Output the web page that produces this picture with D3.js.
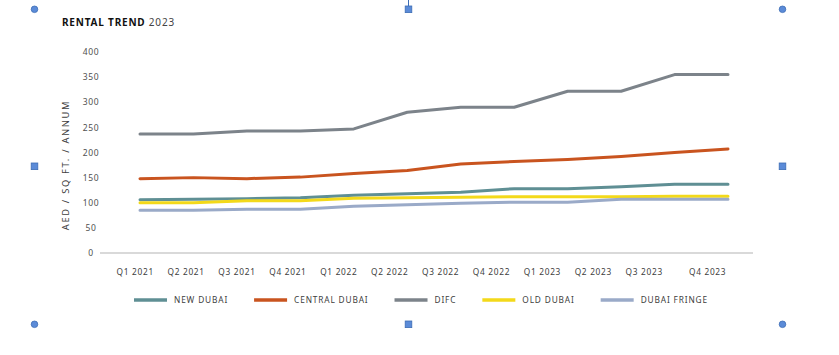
<!DOCTYPE html>
<html>
<head>
<meta charset="utf-8">
<script src="https://cdn.jsdelivr.net/npm/d3@7"></script>
<style>
  html, body { margin: 0; padding: 0; background: #fff; }
  svg { display: block; font-family: "Noto Sans", "DejaVu Sans", sans-serif; }
</style>
</head>
<body>
<svg id="chart" width="839" height="355"></svg>
<script>
const categories = ["Q1 2021","Q2 2021","Q3 2021","Q4 2021","Q1 2022","Q2 2022","Q3 2022","Q4 2022","Q1 2023","Q2 2023","Q3 2023","Q4 2023"];
const newDubai     = [106, 107, 108, 110, 115, 118, 121, 128, 128, 132, 137, 137];
const centralDubai = [148, 150, 148, 151, 158, 164, 177, 182, 186, 192, 200, 207];
const difc         = [237, 237, 243, 243, 247, 280, 290, 290, 322, 322, 355, 355];
const oldDubai     = [100, 100, 104, 104, 109, 110, 111, 112, 112, 112, 113, 113];
const dubaiFringe  = [85, 85, 87, 87, 93, 96, 99, 101, 101, 107, 107, 107];
const seriesNames  = ["NEW DUBAI", "CENTRAL DUBAI", "DIFC", "OLD DUBAI", "DUBAI FRINGE"];
const yTicks       = [0, 50, 100, 150, 200, 250, 300, 350, 400];

const colors = ["#5f8f94", "#c9541f", "#7c838a", "#f3d91a", "#9aaac8"];
const seriesValues = [newDubai, centralDubai, difc, oldDubai, dubaiFringe];
const series = seriesNames.map((n, i) => ({ name: n, values: seriesValues[i], color: colors[i] }));

const svg = d3.select("#chart");

const x = d3.scalePoint().domain(categories).range([140, 728]);
const xLabel = d3.scalePoint().domain(categories).range([134.7, 134.7 + 50.9 * 11]);
const y = d3.scaleLinear().domain([0, 400]).range([253, 52]);

// title
const title = svg.append("text").attr("x", 62).attr("y", 26)
  .style("font-size", "10px").style("letter-spacing", "0.8px").attr("fill", "#111");
title.append("tspan").attr("font-weight", "bold").text("RENTAL TREND");
title.append("tspan").attr("fill", "#444").text(" 2023");

// y axis label
svg.append("text")
  .attr("transform", "translate(69,165) rotate(-90)")
  .attr("text-anchor", "middle")
  .style("font-size", "9.3px").style("letter-spacing", "1.7px")
  .attr("fill", "#404040")
  .text("AED / SQ FT. / ANNUM");

// y tick labels
const yAxis = d3.axisLeft(y).tickValues(yTicks).tickSize(0).tickPadding(0);
const gy = svg.append("g").attr("transform", "translate(91,0)").call(yAxis);
gy.select(".domain").remove();
gy.selectAll("text").attr("text-anchor", "middle").attr("fill", "#505050")
  .style("font-size", "8.5px").style("letter-spacing", "0.6px")
  .style("font-family", "'Noto Sans', sans-serif");

// baseline
svg.append("line").attr("x1", 100).attr("x2", 753).attr("y1", y(0)).attr("y2", y(0))
  .attr("stroke", "#d9d9d9").attr("stroke-width", 1.8);

// x axis labels
const xAxis = d3.axisBottom(xLabel).tickSize(0).tickPadding(0);
const gx = svg.append("g").attr("transform", "translate(0,269)").call(xAxis);
gx.select(".domain").remove();
gx.selectAll("text").attr("fill", "#404040").attr("dy", "0.71em")
  .style("font-size", "8.3px").style("letter-spacing", "0.7px")
  .style("font-family", "'Noto Sans', sans-serif");
gx.selectAll(".tick").filter(d => d === "Q4 2023")
  .attr("transform", d => `translate(${xLabel(d) + 13},0)`);

// lines
const line = d3.line().x((d, i) => x(categories[i])).y(d => y(d)).curve(d3.curveLinear);
svg.append("g").selectAll("path").data(series).join("path")
  .attr("d", d => line(d.values))
  .attr("fill", "none")
  .attr("stroke", d => d.color)
  .attr("stroke-width", 3)
  .attr("stroke-linejoin", "round")
  .attr("stroke-linecap", "round");

// legend
const legend = svg.append("g").attr("transform", "translate(134,300)");
let lx = 0;
series.forEach(s => {
  const g = legend.append("g").attr("transform", `translate(${lx},0)`);
  g.append("line").attr("x1", 0).attr("x2", 33).attr("y1", 0).attr("y2", 0)
    .attr("stroke", s.color).attr("stroke-width", 3.5);
  const t = g.append("text").attr("x", 40).attr("y", 3)
    .style("font-size", "8.3px").style("letter-spacing", "0.85px")
    .attr("fill", "#404040").text(s.name);
  lx += 40 + t.node().getComputedTextLength() + 26;
});

// selection handles (frame of the chart object)
const handleFill = "#5b8bd8", handleStroke = "#3d6db5";
svg.append("line").attr("x1", 408.5).attr("x2", 408.5).attr("y1", 0).attr("y2", 6)
  .attr("stroke", handleStroke).attr("stroke-width", 1);
const circles = [[34.5, 9.3], [782.5, 9.3], [34.5, 324.3], [782.5, 324.3]];
const squares = [[408.5, 9.3], [34.5, 166.3], [782.5, 166.3], [408.5, 324.3]];
svg.append("g").selectAll("circle").data(circles).join("circle")
  .attr("cx", d => d[0]).attr("cy", d => d[1]).attr("r", 3.3)
  .attr("fill", handleFill).attr("stroke", handleStroke).attr("stroke-width", 0.8);
svg.append("g").selectAll("rect").data(squares).join("rect")
  .attr("x", d => d[0] - 3.3).attr("y", d => d[1] - 3.3).attr("width", 6.6).attr("height", 6.6)
  .attr("fill", handleFill).attr("stroke", handleStroke).attr("stroke-width", 0.8);
</script>
</body>
</html>
